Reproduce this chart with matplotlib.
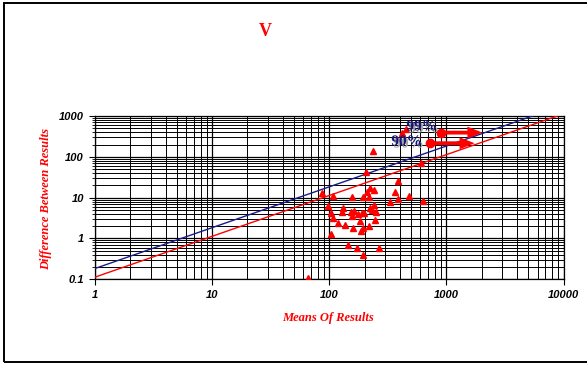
import matplotlib
matplotlib.use('Agg')
import matplotlib.pyplot as plt
import matplotlib.patheffects as pe
from matplotlib.patches import Rectangle
from matplotlib.ticker import LogLocator, FixedLocator, FixedFormatter, NullFormatter

# scatter of (mean, difference) pairs
means = [236, 207, 86.7, 107.6, 157, 196, 221, 239, 210, 218,
         388, 361, 388, 327, 478, 629, 609, 98.3, 103, 108,
         119, 128, 132, 137, 154, 162, 157, 176, 183, 189,
         198, 224, 230, 239, 250, 245, 220, 194, 188, 158,
         103, 146, 172, 264, 196, 66.4, 417, 454]
diffs = [142, 43.4, 13.2, 11.0, 10.2, 10.3, 17.0, 15.5, 14.0, 10.6,
         26.1, 13.5, 9.3, 7.85, 11.0, 8.3, 69.7, 6.27, 4.15, 3.24,
         2.44, 4.39, 5.5, 2.14, 4.39, 4.8, 3.56, 3.92, 2.73, 4.28,
         4.28, 5.69, 5.0, 6.73, 4.54, 2.79, 2.06, 1.81, 1.53, 1.84,
         1.27, 0.68, 0.585, 0.585, 0.387, 0.108, 392, 483]

# limit lines (90% red, 99% blue)
line_x = [1, 10000]
limit90 = [0.113, 1130]
limit99 = [0.184, 1840]

tick_vals = [1, 10, 100, 1000, 10000]
tick_labels = ['1', '10', '100', '1000', '10000']
ytick_vals = [0.1, 1, 10, 100, 1000]
ytick_labels = ['0.1', '1', '10', '100', '1000']

W, H = 587, 367
fig = plt.figure(figsize=(W / 100, H / 100), dpi=100)
fig.patch.set_facecolor('white')

# outer chart border (right edge runs off the picture)
fig.patches.append(Rectangle((4 / W, 1 - 362 / H), (600 - 4) / W, (362 - 3) / H,
                             transform=fig.transFigure, fill=False,
                             edgecolor='black', lw=1.4))

ax = fig.add_axes([95 / W, 1 - 279.3 / H, (563.5 - 95) / W, (279.3 - 116) / H])
ax.set_xscale('log')
ax.set_yscale('log')
ax.set_xlim(1, 10000)
ax.set_ylim(0.1, 1000)

ax.grid(True, which='major', color='black', lw=0.9)
ax.grid(True, which='minor', color='black', lw=0.7)
ax.xaxis.set_minor_locator(LogLocator(base=10, subs=range(2, 10)))
ax.yaxis.set_minor_locator(LogLocator(base=10, subs=range(2, 10)))
ax.xaxis.set_minor_formatter(NullFormatter())
ax.yaxis.set_minor_formatter(NullFormatter())
ax.set_axisbelow(True)

ax.plot(line_x, limit99, color='#1a1a8c', lw=1.0, zorder=3)
ax.plot(line_x, limit90, color='red', lw=1.0, zorder=3)
ax.plot(means, diffs, linestyle='none', marker='^', color='red',
        markersize=4.5, zorder=4)

# 99% / 90% labels with arrows
shadow = [pe.SimplePatchShadow(offset=(1.5, -1.5), shadow_rgbFace='0.65', alpha=1), pe.Normal()]
ax.text(614, 541, '99%', ha='center', va='center', color='#14147a', fontsize=11,
        family='Liberation Serif', fontweight='bold', path_effects=shadow, zorder=6)
ax.text(457, 232, '90%', ha='center', va='center', color='#14147a', fontsize=11,
        family='Liberation Serif', fontweight='bold', path_effects=shadow, zorder=6)
for x0, x1, yy in [(903, 2030, 392), (728, 1740, 215)]:
    ax.annotate('', xy=(x1, yy), xytext=(x0, yy),
                arrowprops=dict(arrowstyle='simple,head_length=0.77,head_width=0.62,tail_width=0.2',
                                facecolor='red', edgecolor='none', lw=0,
                                mutation_scale=14, shrinkA=0, shrinkB=0), zorder=6)
    ax.plot([x0], [yy], marker='o', color='red', markersize=6, zorder=7)

ax.xaxis.set_major_locator(FixedLocator(tick_vals))
ax.xaxis.set_major_formatter(FixedFormatter(tick_labels))
ax.yaxis.set_major_locator(FixedLocator(ytick_vals))
ax.yaxis.set_major_formatter(FixedFormatter(ytick_labels))
ax.tick_params(which='major', direction='out', length=4, width=0.8, pad=4)
ax.tick_params(axis='x', which='minor', length=0)
ax.tick_params(axis='y', which='minor', direction='out', length=2, width=0.6)
for lab in ax.get_xticklabels() + ax.get_yticklabels():
    lab.set_family('Liberation Sans')
    lab.set_fontweight('bold')
    lab.set_fontstyle('italic')
    lab.set_fontsize(8)

for s in ax.spines.values():
    s.set_color('black')
    s.set_linewidth(0.9)

fig.text(265 / W, 1 - 31 / H, 'V', ha='center', va='center', color='red',
         fontsize=13, family='Liberation Serif', fontweight='bold')
fig.text(327.7 / W, 1 - 318 / H, 'Means Of Results', ha='center', va='center',
         color='red', fontsize=9, family='Liberation Serif', fontweight='bold',
         fontstyle='italic')
fig.text(46 / W, 1 - 199 / H, 'Difference Between Results', ha='center', va='center',
         rotation=90, color='red', fontsize=9, family='Liberation Serif',
         fontweight='bold', fontstyle='italic')

fig.savefig('out.png', dpi=100)
